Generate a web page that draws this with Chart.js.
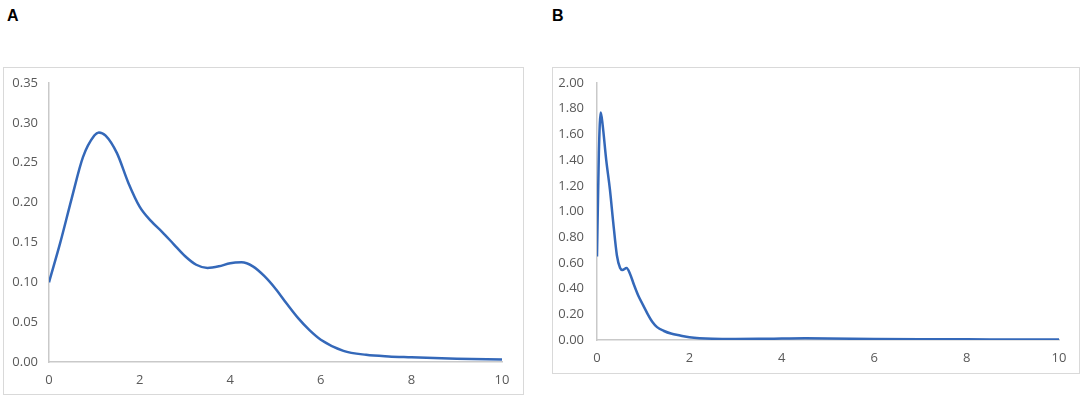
<!DOCTYPE html>
<html>
<head>
<meta charset="utf-8">
<script src="https://cdn.jsdelivr.net/npm/chart.js@4.4.1/dist/chart.umd.min.js"></script>
<style>
  html, body { margin: 0; padding: 0; background: #ffffff; }
  body { width: 1084px; height: 399px; position: relative; overflow: hidden; }
  .panel-label { position: absolute; font-family: "Liberation Sans", Arial, sans-serif; font-weight: bold; font-size: 16px; color: #000; }
  .box { position: absolute; border: 1px solid #d9d9d9; box-sizing: border-box; }
  .wrap { position: absolute; }
</style>
</head>
<body>
<div class="panel-label" style="left:7px; top:7px;">A</div>
<div class="panel-label" style="left:552px; top:7px;">B</div>

<div class="box" style="left:3px; top:67px; width:521px; height:328px;"></div>
<div class="wrap" style="left:4px; top:68px; width:519px; height:326px;"><canvas id="chartA"></canvas></div>

<div class="box" style="left:552px; top:67px; width:528px; height:307px;"></div>
<div class="wrap" style="left:553px; top:68px; width:526px; height:305px;"><canvas id="chartB"></canvas></div>

<script>
// ---- Data: panel A ----
const xA = [0, 0.25, 0.5, 0.75, 1.0, 1.1, 1.25, 1.5, 1.75, 2.0, 2.25, 2.5, 2.75, 3.0, 3.25, 3.5, 3.75, 4.0, 4.25, 4.5, 4.75, 5.0, 5.25, 5.5, 5.75, 6.0, 6.5, 7, 7.5, 8, 9, 10];
const yA = [0.100, 0.150, 0.205, 0.257, 0.284, 0.288, 0.284, 0.262, 0.225, 0.195, 0.177, 0.163, 0.148, 0.133, 0.122, 0.118, 0.120, 0.124, 0.125, 0.120, 0.108, 0.092, 0.073, 0.055, 0.040, 0.028, 0.014, 0.009, 0.007, 0.006, 0.004, 0.003];

// ---- Data: panel B ----
const xB = [0, 0.04, 0.08, 0.12, 0.2, 0.28, 0.35, 0.43, 0.5, 0.55, 0.64, 0.72, 0.8, 0.9, 1.0, 1.1, 1.2, 1.3, 1.45, 1.6, 1.8, 2.0, 2.5, 3, 3.5, 4, 4.5, 5, 6, 7, 8, 9, 10];
const yB = [0.65, 1.45, 1.77, 1.68, 1.40, 1.17, 0.92, 0.66, 0.56, 0.545, 0.56, 0.51, 0.43, 0.34, 0.27, 0.20, 0.14, 0.10, 0.07, 0.05, 0.035, 0.022, 0.010, 0.008, 0.009, 0.011, 0.013, 0.012, 0.008, 0.006, 0.005, 0.004, 0.003];

// ---- Tick labels ----
const xTicksAll = [0, 2, 4, 6, 8, 10];
const yTicksA = [0, 0.05, 0.10, 0.15, 0.20, 0.25, 0.30, 0.35];
const yTicksB = [0, 0.2, 0.4, 0.6, 0.8, 1.0, 1.2, 1.4, 1.6, 1.8, 2.0];

const LINE_COLOR = '#3468b9';
const AXIS_COLOR = '#c9c9c9';
const TICK_COLOR = '#595959';
const TICK_FONT = { family: '"Open Sans", "Liberation Sans", sans-serif', size: 13 };

function makeChart(id, xs, ys, yTicks, yMax, layout) {
  const pts = xs.map((x, i) => ({ x: x, y: ys[i] }));
  return new Chart(document.getElementById(id), {
    type: 'line',
    data: { datasets: [{ data: pts, borderColor: LINE_COLOR, borderWidth: 2.5, pointRadius: 0, fill: false, cubicInterpolationMode: 'monotone' }] },
    options: {
      responsive: true, maintainAspectRatio: false, animation: false,
      layout: { padding: { left: 0, top: layout.top, right: layout.right, bottom: 0 }, autoPadding: false },
      plugins: { legend: { display: false }, tooltip: { enabled: false } },
      scales: {
        x: { type: 'linear', min: xTicksAll[0], max: xTicksAll[xTicksAll.length - 1],
          afterBuildTicks: (axis) => { axis.ticks = xTicksAll.map(v => ({ value: v })); },
          grid: { display: false, drawTicks: false },
          border: { display: true, color: AXIS_COLOR, width: 1.5 },
          ticks: { color: TICK_COLOR, font: TICK_FONT, padding: 10, maxRotation: 0, callback: (v) => String(v) },
          afterFit: (axis) => { axis.height = layout.xh; axis.paddingLeft = 0; axis.paddingRight = 0; } },
        y: { type: 'linear', min: 0, max: yMax,
          afterBuildTicks: (axis) => { axis.ticks = yTicks.map(v => ({ value: v })); },
          grid: { display: false, drawTicks: false },
          border: { display: true, color: AXIS_COLOR, width: 1.5 },
          ticks: { color: TICK_COLOR, font: TICK_FONT, padding: layout.yp, callback: (v) => Number(v).toFixed(2) },
          afterFit: (axis) => { axis.width = layout.yw; axis.paddingTop = 0; axis.paddingBottom = 0; } }
      }
    }
  });
}

makeChart('chartA', xA, yA, yTicksA, 0.35, { top: 15, right: 21, xh: 32, yw: 45, yp: 11 });
makeChart('chartB', xB, yB, yTicksB, 2.0, { top: 15, right: 20, xh: 33, yw: 44, yp: 13 });
</script>
</body>
</html>
